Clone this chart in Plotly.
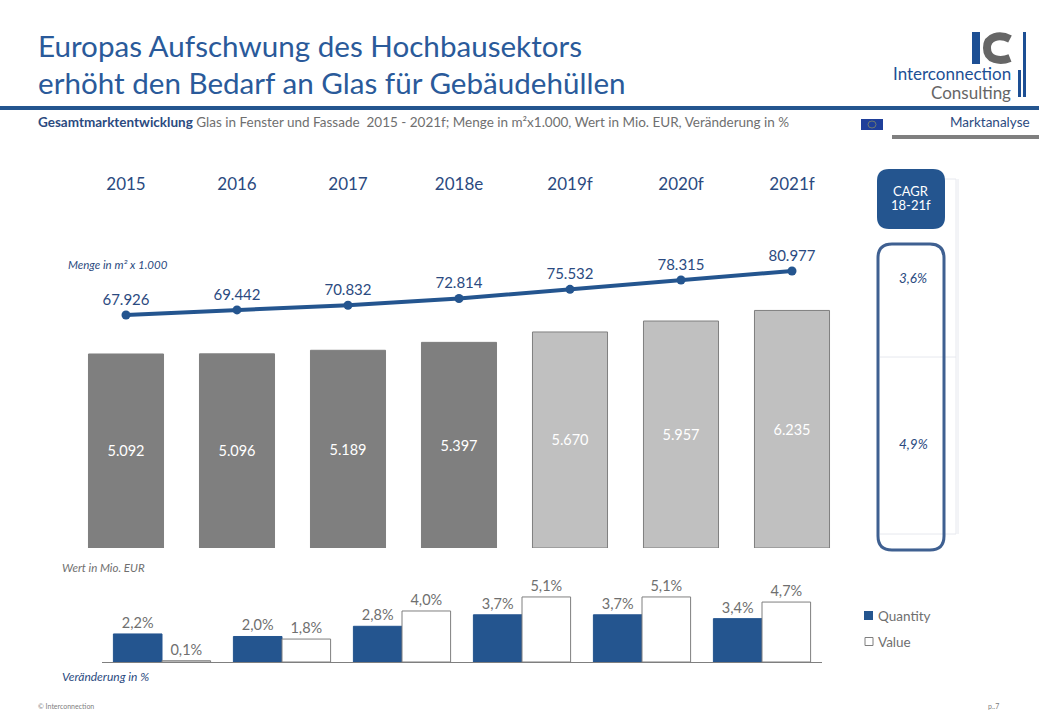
# -*- coding: utf-8 -*-
import plotly.graph_objects as go

W = 1039
H = 720

years = ['2015', '2016', '2017', '2018e', '2019f', '2020f', '2021f']
menge = [67926, 69442, 70832, 72814, 75532, 78315, 80977]
wert = [5092, 5096, 5189, 5397, 5670, 5957, 6235]
change_labels = ['15-16', '16-17', '17-18', '18-19', '19-20', '20-21']
quantity = [2.2, 2.0, 2.8, 3.7, 3.7, 3.4]
value = [0.1, 1.8, 4.0, 5.1, 5.1, 4.7]
cagr = ['3,6%', '4,9%']

BLUE = '#24558f'
NAVY = '#2b4a80'
GREY = '#7f7f7f'
LIGHT = '#c0c0c0'
TEXT_GREY = '#6f6f6f'
FONT = 'Lato'


def fx(px):
    return px / W


def fy(px):
    return 1 - px / H


def note(px, py, text, size=12, color=TEXT_GREY, anchor='left', italic=False):
    if italic:
        text = '<i>' + text + '</i>'
    return dict(x=fx(px), y=fy(py), xref='paper', yref='paper', text=text,
                showarrow=False, xanchor=anchor, yanchor='middle',
                xshift=-2 if anchor == 'left' else 0,
                font=dict(family=FONT, size=size, color=color))


def box(x0, y0, x1, y1, fill=None, line=None, width=0):
    return dict(type='rect', xref='paper', yref='paper',
                x0=fx(x0), x1=fx(x1), y0=fy(y0), y1=fy(y1),
                fillcolor=fill if fill else 'rgba(0,0,0,0)',
                line=dict(color=line if line else 'rgba(0,0,0,0)', width=width))


def rule(x0, y0, x1, y1, color='#e6e8ee', width=1):
    return dict(type='line', xref='paper', yref='paper',
                x0=fx(x0), x1=fx(x1), y0=fy(y0), y1=fy(y1),
                line=dict(color=color, width=width))


def rounded(x0, y0, x1, y1, r, fill=None, line=None, width=0):
    p = ('M {a},{t} L {b},{t} Q {x1},{t} {x1},{c} L {x1},{d} Q {x1},{bt} {b},{bt} '
         'L {a},{bt} Q {x0},{bt} {x0},{d} L {x0},{c} Q {x0},{t} {a},{t} Z').format(
        a=fx(x0 + r), b=fx(x1 - r), x0=fx(x0), x1=fx(x1),
        t=fy(y0), bt=fy(y1), c=fy(y0 + r), d=fy(y1 - r))
    return dict(type='path', xref='paper', yref='paper', path=p,
                fillcolor=fill if fill else 'rgba(0,0,0,0)',
                line=dict(color=line if line else 'rgba(0,0,0,0)', width=width))


fig = go.Figure()

fig.add_trace(go.Bar(
    x=years, y=wert, xaxis='x', yaxis='y', showlegend=False, width=0.676,
    marker=dict(color=[GREY] * 4 + [LIGHT] * 3,
                line=dict(color=GREY, width=1)),
    texttemplate='%{y:,.0f}', textposition='inside', insidetextanchor='middle',
    textangle=0,
    textfont=dict(family=FONT, size=14.5, color='white')))

fig.add_trace(go.Scatter(
    x=years, y=menge, xaxis='x2', yaxis='y2', showlegend=False,
    mode='lines+markers+text',
    line=dict(color=BLUE, width=4), marker=dict(color=BLUE, size=9),
    texttemplate='%{y:,.0f}', textposition='top center',
    textfont=dict(family=FONT, size=15, color=NAVY)))

fig.add_trace(go.Bar(
    name='Quantity', x=change_labels, y=quantity, xaxis='x3', yaxis='y3',
    showlegend=False,
    marker=dict(color=BLUE, line=dict(color=BLUE, width=1)),
    texttemplate='%{y:.1f}%', textposition='outside', cliponaxis=False,
    textfont=dict(family=FONT, size=14.5, color=TEXT_GREY)))

fig.add_trace(go.Bar(
    name='Value', x=change_labels, y=value, xaxis='x3', yaxis='y3',
    showlegend=False,
    marker=dict(color='white', line=dict(color=GREY, width=1)),
    texttemplate='%{y:.1f}%', textposition='outside', cliponaxis=False,
    textfont=dict(family=FONT, size=14.5, color=TEXT_GREY)))

shapes = [
    rule(0, 108, W, 108, BLUE, 4),
    rule(892, 137, W, 137, GREY, 4),
    box(861, 119, 883, 130, '#1f3f9a'),
    dict(type='circle', xref='paper', yref='paper', x0=fx(868), x1=fx(876),
         y0=fy(121), y1=fy(128), line=dict(color='#8f9060', width=0.7)),
    # logo
    box(972, 32, 980, 64, '#1d4f94'),
    dict(type='path', xref='paper', yref='paper',
         path='M {},{} C {},{} {},{} {},{} C {},{} {},{} {},{}'.format(
             fx(1010), fy(39), fx(1000), fy(34), fx(987), fy(36), fx(987), fy(48),
             fx(987), fy(60), fx(1000), fy(62), fx(1010), fy(58)),
         line=dict(color='#666666', width=8)),
    box(1023, 32, 1026, 97, '#1d4f94'),
    box(1018, 70, 1021, 97, '#1d4f94'),
    # pale table lines behind the CAGR column
    rule(945, 179, 956, 179),
    rule(956, 179, 956, 534),
    rule(958, 179, 958, 534),
    rule(880, 357, 956, 357),
    rule(880, 534, 956, 534),
    rounded(877, 169, 945, 229, 12, fill=BLUE),
    rounded(878, 244, 944, 550, 14, line='#3f6091', width=3),
    # legend swatches
    box(864, 611, 873, 620, BLUE),
    box(865, 637.5, 873, 645.5, 'white', GREY, 1),
]

annotations = [
    note(38, 45, 'Europas Aufschwung des Hochbausektors', 29.6, '#2a5a9a'),
    note(38, 82, 'erhöht den Bedarf an Glas für Gebäudehüllen', 29.6, '#2a5a9a'),
    note(38, 122, '<b><span style="color:#2b4a80">Gesamtmarktentwicklung</span></b> '
         'Glas in Fenster und Fassade  2015 - 2021f; Menge in m²x1.000, '
         'Wert in Mio. EUR, Veränderung in %', 13.5),
    note(1032, 122, 'Marktanalyse', 13.5, NAVY, 'right'),
    note(1013, 74, 'Interconnection', 17, '#1d4f94', 'right'),
    note(1013, 92, 'Consulting', 17, '#666666', 'right'),
    note(911, 191, 'CAGR', 13, 'white', 'center'),
    note(911, 205, '18-21f', 13, 'white', 'center'),
    note(913, 278, cagr[0], 13.5, NAVY, 'center', True),
    note(913, 444, cagr[1], 13.5, NAVY, 'center', True),
    note(68, 264, 'Menge in m² x 1.000', 11.5, NAVY, italic=True),
    note(62, 567, 'Wert in Mio. EUR', 11.5, TEXT_GREY, italic=True),
    note(62, 676, 'Veränderung in %', 12, NAVY, italic=True),
    note(878, 616, 'Quantity', 13.5),
    note(878, 642, 'Value', 13.5),
    note(38, 706, '© Interconnection', 7, '#808080'),
    note(1001, 706, 'p..7', 7, '#808080', 'right'),
]

hidden = dict(showgrid=False, zeroline=False, showline=False, showticklabels=False,
              ticks='', fixedrange=True)

fig.update_layout(
    width=W, height=H, margin=dict(l=0, r=0, t=0, b=0, pad=0),
    paper_bgcolor='white', plot_bgcolor='rgba(0,0,0,0)',
    font=dict(family=FONT, color=TEXT_GREY),
    separators=',.',
    barmode='group', bargap=0.19, bargroupgap=0,
    shapes=shapes, annotations=annotations,
    xaxis=dict(hidden, domain=[fx(70.5), fx(847.5)], anchor='y', range=[-0.5, 6.5]),
    yaxis=dict(hidden, domain=[fy(548), fy(300)], range=[0, 6509], anchor='x'),
    xaxis2=dict(hidden, domain=[fx(70.5), fx(847.5)], anchor='y2', side='top',
                range=[-0.5, 6.5], showticklabels=True,
                tickfont=dict(family=FONT, size=17, color=NAVY)),
    yaxis2=dict(hidden, domain=[fy(330), fy(194)], range=[63475, 103831], anchor='x2'),
    xaxis3=dict(hidden, domain=[fx(102), fx(822)], anchor='y3', range=[-0.5, 5.5],
                showline=True, linecolor=GREY, linewidth=1),
    yaxis3=dict(hidden, domain=[fy(662), fy(580)], range=[0, 6.43], anchor='x3'),
)

# page has a default 8px body margin
fig.write_html("out.html", config={'displayModeBar': False},
               post_script="document.body.style.margin='0';")
